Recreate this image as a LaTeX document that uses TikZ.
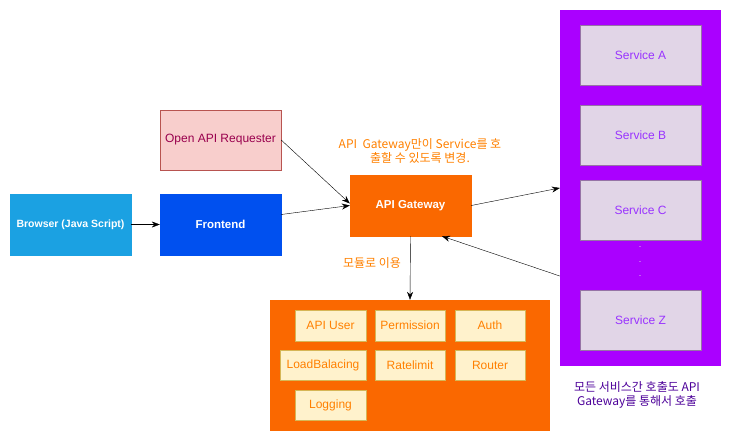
\documentclass[tikz,border=0pt]{standalone}
\usepackage{fontspec}
\setmainfont{Liberation Sans}
\newfontfamily\cjk{Noto Sans CJK KR}
\usetikzlibrary{arrows.meta}
\definecolor{browserblue}{HTML}{1BA1E2}
\definecolor{frontblue}{HTML}{0050EF}
\definecolor{reqfill}{HTML}{F8CECC}
\definecolor{reqline}{HTML}{B85450}
\definecolor{reqtext}{HTML}{99004D}
\definecolor{gwfill}{HTML}{FA6800}
\definecolor{modfill}{HTML}{FFF2CC}
\definecolor{modline}{HTML}{D6B656}
\definecolor{notetext}{HTML}{FF8000}
\definecolor{svcpurple}{HTML}{AA00FF}
\definecolor{svcfill}{HTML}{E1D5E7}
\definecolor{svcline}{HTML}{9673A6}
\definecolor{svctext}{HTML}{9933FF}
\definecolor{captext}{HTML}{4C0099}
\begin{document}
\begin{tikzpicture}
[x=1pt,y=-1pt
,font=\fontsize{12}{14}\selectfont
,bx/.style={rectangle,inner sep=0pt,minimum width=121pt,minimum height=61pt}
,client/.style={bx,fill=#1,draw=#1,text=white,font=\fontsize{11.5}{14}\selectfont\bfseries}
,req/.style={bx,minimum height=60pt,fill=reqfill,draw=reqline,text=reqtext}
,gw/.style={bx,fill=gwfill,draw=gwfill,text=white,font=\fontsize{11.5}{14}\selectfont\bfseries}
,mod/.style={rectangle,inner sep=0pt,minimum width=71pt,minimum height=31pt,fill=modfill,draw=modline,text=notetext}
,svc/.style={bx,minimum height=60pt,fill=svcfill,draw=svcline,text=svctext}
,note/.style={align=center,text=notetext,font=\fontsize{12}{14}\selectfont\cjk}
,ce/.style={draw=black,arrows={-Stealth[length=8pt,width=6pt]}}]
\useasboundingbox (0,0) rectangle (743,445);
% clients
\node[client=browserblue,font=\fontsize{10.5}{14}\selectfont\bfseries] (browser) at (70.5,224.5) {Browser (Java Script)};
\node[client=frontblue] (frontend) at (220.5,224.5) {Frontend};
\node[req] (openapi) at (220.5,140) {Open API Requester};
% gateway
\node[gw] (gateway) at (410.5,205.5) {API Gateway};
\node[note] (gwnote) at (420,151) {API\ \ Gateway만이 Service를 호\\출할 수 있도록 변경.};
\node[note,anchor=center] (modnote) at (372,263) {모듈로 이용};
% modules
\node[rectangle,fill=gwfill,minimum width=280pt,minimum height=131pt,inner sep=0pt] (modules) at (410,365.5) {};
\node[mod] (apiuser) at (330.5,325.5) {API User};
\node[mod,minimum width=70pt] (permission) at (410,325.5) {Permission};
\node[mod,minimum width=70pt] (auth) at (490,325.5) {Auth};
\node[mod,minimum width=86pt,minimum height=30pt] (loadbal) at (323,365) {LoadBalacing};
\node[mod,minimum width=70pt,minimum height=30pt] (ratelimit) at (410,365) {Ratelimit};
\node[mod,minimum width=70pt,minimum height=30pt] (router) at (490,365) {Router};
\node[mod,minimum height=30pt] (logging) at (330.5,405) {Logging};
% services
\node[rectangle,fill=svcpurple,minimum width=161pt,minimum height=356pt,inner sep=0pt] (services) at (640.5,188) {};
\node[svc] (svca) at (640.5,55) {Service A};
\node[svc] (svcb) at (640.5,135) {Service B};
\node[svc] (svcc) at (640.5,210) {Service C};
\node[svc] (svcz) at (640.5,320) {Service Z};
\node[text=svcfill,align=center,font=\fontsize{9}{14.5}\selectfont] (dots) at (640,262) {.\\.\\.};
\node[align=center,text=captext,font=\fontsize{12}{14}\selectfont\cjk] (svcnote) at (637,395) {모든 서비스간 호출도 API\\Gateway를 통해서 호출};
% connectors
\draw[ce] (browser) -- (frontend);
\draw[ce] ([yshift=10pt]frontend.east) -- ([yshift=0pt]gateway.west);
\draw[ce,thin] (openapi.east) -- ([yshift=2pt]gateway.west);
\draw[ce] (gateway.east) -- (services.west);
\draw[ce] ([yshift=-88pt]services.west) -- ([xshift=31.5pt]gateway.south);
\draw[ce] (gateway.south) -- (modules.north);
\end{tikzpicture}
\end{document}
